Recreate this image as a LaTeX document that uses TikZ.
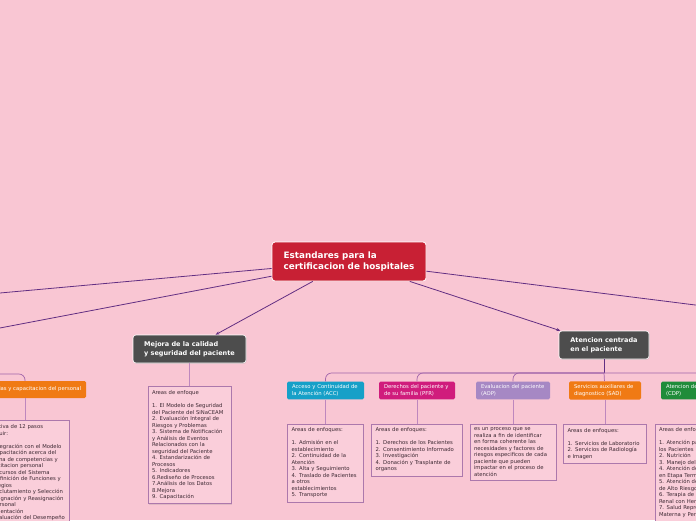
\documentclass[tikz,border=0pt]{standalone}
\usepackage{fontspec}
\setmainfont{DejaVu Sans}
\usetikzlibrary{arrows.meta,positioning,shadows}
\definecolor{bgpink}{RGB}{249,198,211}
\definecolor{rootred}{RGB}{200,32,52}
\definecolor{topicgray}{RGB}{77,77,77}
\definecolor{linkpurple}{RGB}{98,46,130}
\definecolor{branchline}{RGB}{160,100,170}
\definecolor{legline}{RGB}{190,135,190}
\definecolor{notefill}{RGB}{250,206,218}
\definecolor{noteline}{RGB}{172,120,172}
\definecolor{notetext}{RGB}{60,40,50}
\definecolor{accblue}{RGB}{22,160,200}
\definecolor{pfrpink}{RGB}{208,28,124}
\definecolor{aoplilac}{RGB}{166,136,196}
\definecolor{sadorange}{RGB}{240,122,20}
\definecolor{cdpgreen}{RGB}{32,140,58}

\tikzset{
  root/.style={fill=rootred, draw=white, line width=0.8pt, rounded corners=3pt,
    text=white, font=\bfseries\fontsize{8.8}{11}\selectfont, align=left,
    minimum width=154pt, minimum height=39pt},
  topic/.style={fill=topicgray, draw=white, line width=0.6pt, rounded corners=3pt,
    text=white, font=\bfseries\fontsize{6.5}{9.3}\selectfont, align=left,
    minimum height=28pt, drop shadow={shadow xshift=0.6pt, shadow yshift=-0.8pt, opacity=0.25}},
  area/.style={rounded corners=1.5pt, text=white, font=\fontsize{5.3}{6.5}\selectfont,
    align=left, inner xsep=5pt, minimum height=17pt},
  note/.style={fill=notefill, draw=noteline, line width=0.6pt, text=notetext,
    font=\fontsize{5.3}{6.5}\selectfont, align=left, inner sep=4pt, text width=#1,
    drop shadow={shadow xshift=0.6pt, shadow yshift=-0.8pt, opacity=0.2}},
  link/.style={draw=linkpurple, line width=0.8pt},
  branch/.style={draw=branchline, line width=0.7pt, rounded corners=6pt},
  leg/.style={draw=legline, line width=0.7pt}
}

\begin{document}
\begin{tikzpicture}[x=1pt, y=-1pt]
  \useasboundingbox (0,0) rectangle (696,520);
  \clip (0,0) rectangle (696,520);
  \fill[bgpink] (0,0) rectangle (696,520);

  \node[root] (root) at (349,261.5) {Estandares para la\\certificacion de hospitales};
  \node[topic, minimum width=113pt] (mejora) at (189.5,349) {Mejora de la calidad\\y seguridad del paciente};
  \node[topic, minimum width=90pt] (atencion) at (604,345) {Atencion centrada\\en el paciente};

  \coordinate (offL1) at (-40,296.6);
  \coordinate (offL2) at (-40,335.6);
  \coordinate (offR) at (740,310.6);
  \coordinate (persIn) at (-10,374);
  \coordinate (hub) at (604,373);

  \draw[link] (root) -- (offL1);
  \draw[link] (root) -- (offL2);
  \draw[link] (root) -- (offR);
  \draw[link, -{Stealth[length=4pt, width=3pt]}] (root) -- (mejora);
  \draw[link, -{Stealth[length=4pt, width=3pt]}] (root) -- (atencion);

  % personal (branch from off the left edge)
  \node[area, fill=sadorange] (pers) at (25,389.5) {Competencias y capacitacion del personal};
  \node[note=80pt, below=22pt of pers] (persBox) {Iniciativa de 12 pasos\\a seguir:\\[6.5pt]
    1. Integración con el Modelo\\2. Capacitación acerca del\\sistema de competencias y\\capacitacion personal\\
    3. Recursos del Sistema\\4. Definición de Funciones y\\Privilegios\\5. Reclutamiento y Selección\\
    6. Asignación y Reasignación\\de Personal\\7. Orientación\\8. Evaluación del Desempeño\\[20pt]~};
  \draw[branch] (persIn) -| (pers.north);
  \draw[leg] (pers) -- (persBox);

  % mejora de la calidad
  \node[note=75pt, below=23pt of mejora] (mejoraBox) {Areas de enfoque\\[6.5pt]
    1. El Modelo de Seguridad\\del Paciente del SiNaCEAM\\2. Evaluación Integral de\\Riesgos y Problemas\\
    3. Sistema de Notificación\\y Análisis de Eventos\\Relacionados con la\\seguridad del Paciente\\
    4. Estandarización de\\Procesos\\5. Indicadores\\6.Rediseño de Procesos\\7.Análisis de los Datos\\
    8.Mejora\\9. Capacitación};
  \draw[leg] (mejora) -- (mejoraBox);

  % atencion centrada en el paciente
  \node[area, fill=accblue, text width=67pt] (acc) at (325.5,390.5) {Acceso y Continuidad de\\la Atención (ACC)};
  \node[area, fill=pfrpink, text width=66pt] (pfr) at (417,390.5) {Derechos del paciente y\\de su familia (PFR)};
  \node[area, fill=aoplilac, text width=64pt] (aop) at (513,390.5) {Evaluacion del paciente\\(AOP)};
  \node[area, fill=sadorange, text width=62pt] (sad) at (605,390.5) {Servicios auxiliares de\\diagnostico (SAD)};
  \node[area, fill=cdpgreen, text width=76pt] (cdp) at (704,390.5) {Atencion de los pacientes\\(CDP)};

  \draw[link] (atencion) -- (hub);
  \foreach \k in {acc,pfr,aop,cdp}
    \draw[branch] (hub) -| (\k.north);
  \draw[branch] (hub) -- (sad);

  \node[note=68pt, below=24pt of acc] (accBox) {Areas de enfoques:\\[6.5pt]
    1. Admisión en el\\establecimiento\\2. Continuidad de la\\Atención\\3. Alta y Seguimiento\\
    4. Traslado de Pacientes\\a otros\\establecimientos\\5. Transporte};
  \node[note=83pt, below=24pt of pfr] (pfrBox) {Areas de enfoques:\\[6.5pt]
    1. Derechos de los Pacientes\\2. Consentimiento Informado\\3. Investigación\\
    4. Donación y Trasplante de\\organos};
  \node[note=78pt, below=24pt of aop] (aopBox) {es un proceso que se\\realiza a fin de identificar\\
    en forma coherente las\\necesidades y factores de\\riesgos especificos de cada\\
    paciente que pueden\\impactar en el proceso de\\atención};
  \node[note=75pt, below=24pt of sad] (sadBox) {Areas de enfoques:\\[6.5pt]
    1. Servicios de Laboratorio\\2. Servicios de Radiología\\e Imagen};
  \node[note=90pt, below=24pt of cdp] (cdpBox) {Areas de enfoques:\\[6.5pt]
    1. Atención para todos\\los Pacientes\\2. Nutrición\\3. Manejo del Dolor\\
    4. Atención de Pacientes\\en Etapa Terminal\\5. Atención de Pacientes\\de Alto Riesgo\\
    6. Terapia de Reemplazo\\Renal con Hemodiálisis\\7. Salud Reproductiva,\\Materna y Perinatal\\[20pt]~};

  \foreach \k in {acc,pfr,aop,sad,cdp}
    \draw[leg] (\k) -- (\k Box);
\end{tikzpicture}
\end{document}
